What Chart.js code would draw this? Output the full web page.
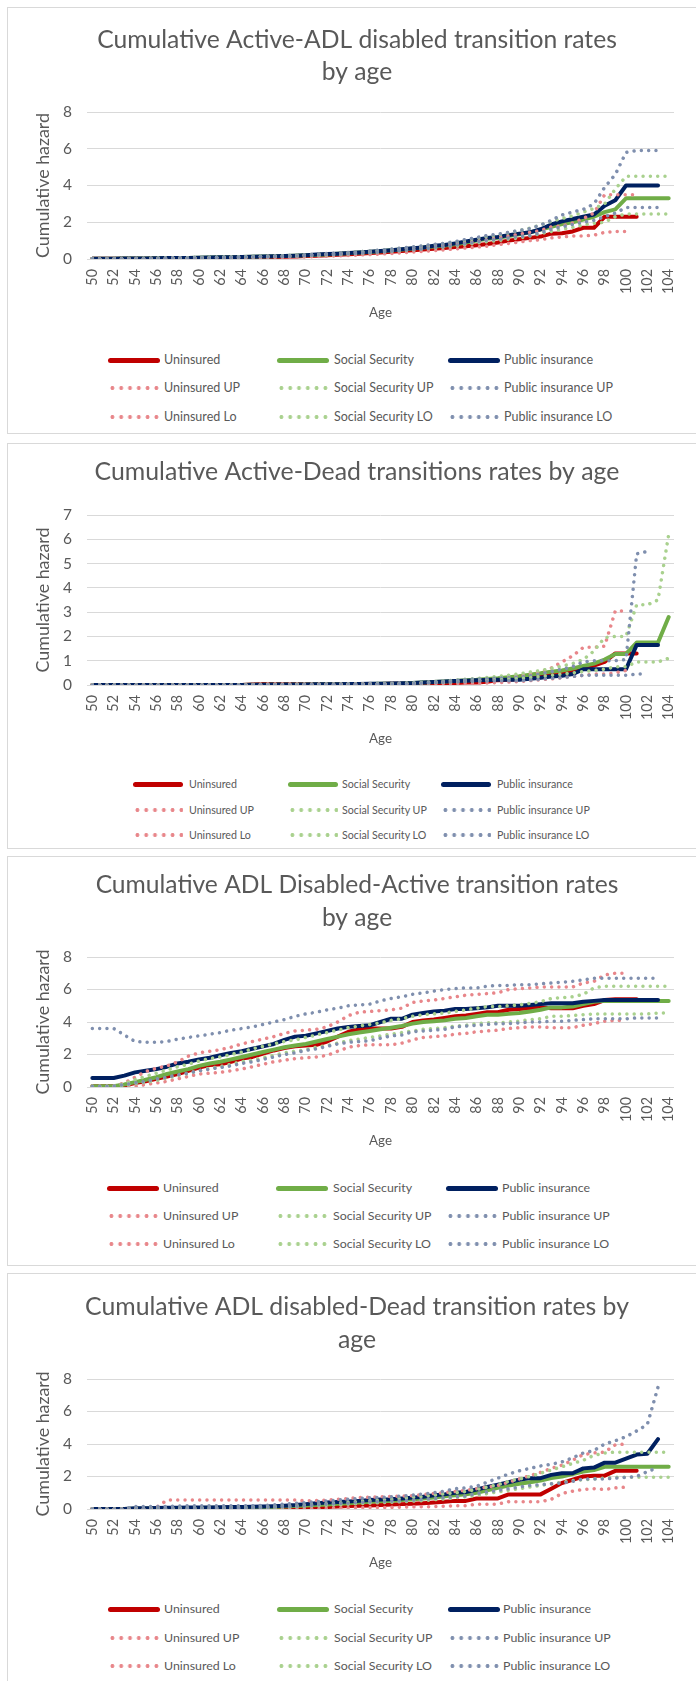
<!DOCTYPE html>
<html>
<head>
<meta charset="utf-8">
<script src="https://cdn.jsdelivr.net/npm/chart.js@4.4.1/dist/chart.umd.min.js"></script>
<style>
  body { margin: 0; width: 696px; height: 1681px; background: #fff; position: relative; overflow: hidden; font-family: Lato, sans-serif; }
  .frame { position: absolute; left: 7px; width: 720px; border: 1px solid #d9d9d9; box-sizing: border-box; }
  canvas { position: absolute; left: 0; }
  .lg-line { position: absolute; }
  .lg-text { position: absolute; color: #595959; white-space: nowrap; transform: translateY(-50%); line-height: 1; }
</style>
</head>
<body>
<script>
// ages on the x axis
const ages = [50,51,52,53,54,55,56,57,58,59,60,61,62,63,64,65,66,67,68,69,70,71,72,73,74,75,76,77,78,79,
  80,81,82,83,84,85,86,87,88,89,90,91,92,93,94,95,96,97,98,99,100,101,102,103,104];

const seriesNames = ['Uninsured', 'Social Security', 'Public insurance',
  'Uninsured UP', 'Social Security UP', 'Public insurance UP',
  'Uninsured Lo', 'Social Security LO', 'Public insurance LO'];
const seriesColors = ['#C00000', '#70AD47', '#002060', '#E8868A', '#A9D18E', '#7F8FAE', '#E8868A', '#A9D18E', '#7F8FAE'];
const seriesDotted = [false, false, false, true, true, true, true, true, true];

// ---- Active -> ADL disabled ----
const actAdlUninsured = [0.01,0.01,0.01,0.02,0.02,0.02,0.03,0.03,0.04,0.04,
  0.05,0.05,0.06,0.07,0.08,0.09,0.10,0.11,0.12,0.14,
  0.16,0.18,0.20,0.23,0.26,0.29,0.32,0.36,0.40,0.44,
  0.48,0.52,0.56,0.60,0.65,0.70,0.75,0.82,0.90,1.00,
  1.08,1.15,1.22,1.38,1.40,1.50,1.70,1.70,2.30,2.30,
  2.30,2.30,null,null,null];
const actAdlSocial = [0.02,0.02,0.02,0.03,0.03,0.03,0.04,0.05,0.05,0.06,
  0.07,0.08,0.09,0.10,0.11,0.12,0.13,0.15,0.16,0.18,
  0.20,0.22,0.25,0.28,0.31,0.35,0.38,0.42,0.47,0.52,
  0.57,0.62,0.68,0.74,0.80,0.90,1.00,1.10,1.15,1.25,
  1.35,1.45,1.60,1.75,1.90,2.00,2.15,2.30,2.55,2.70,
  3.30,3.30,3.30,3.30,3.30];
const actAdlPublic = [0.02,0.02,0.02,0.03,0.03,0.03,0.04,0.05,0.06,0.06,
  0.07,0.08,0.09,0.10,0.11,0.12,0.14,0.15,0.16,0.18,
  0.21,0.24,0.27,0.29,0.32,0.36,0.39,0.43,0.48,0.53,
  0.58,0.63,0.72,0.76,0.85,0.95,1.05,1.15,1.20,1.30,
  1.38,1.45,1.62,1.88,2.05,2.18,2.30,2.42,2.90,3.20,
  4.00,4.00,4.00,4.00,null];
const actAdlUninsuredUp = [0.02,0.02,0.02,0.03,0.03,0.03,0.04,0.05,0.05,0.06,
  0.07,0.08,0.09,0.10,0.11,0.12,0.14,0.15,0.17,0.19,
  0.21,0.24,0.27,0.30,0.33,0.37,0.41,0.45,0.50,0.55,
  0.60,0.65,0.70,0.76,0.82,0.90,0.98,1.06,1.15,1.25,
  1.35,1.45,1.55,1.75,1.80,1.95,2.20,2.50,3.50,3.50,
  3.50,3.50,null,null,null];
const actAdlSocialUp = [0.02,0.02,0.02,0.03,0.03,0.04,0.05,0.05,0.06,0.07,
  0.08,0.09,0.10,0.11,0.12,0.13,0.15,0.16,0.18,0.20,
  0.22,0.25,0.28,0.31,0.35,0.39,0.43,0.48,0.53,0.58,
  0.64,0.70,0.77,0.84,0.92,1.02,1.12,1.22,1.30,1.42,
  1.55,1.68,1.85,2.05,2.20,2.35,2.55,2.75,3.00,3.80,
  4.50,4.50,4.50,4.50,4.50];
const actAdlPublicUp = [0.02,0.02,0.03,0.03,0.04,0.04,0.05,0.06,0.07,0.07,
  0.08,0.09,0.10,0.11,0.12,0.14,0.15,0.17,0.18,0.20,
  0.23,0.26,0.30,0.33,0.36,0.40,0.44,0.49,0.54,0.60,
  0.66,0.72,0.80,0.86,0.95,1.06,1.17,1.28,1.35,1.45,
  1.55,1.65,1.85,2.10,2.40,2.55,2.70,3.00,3.90,4.60,
  5.80,5.90,5.90,5.90,null];
const actAdlUninsuredLo = [0.00,0.00,0.00,0.01,0.01,0.01,0.02,0.02,0.03,0.03,
  0.03,0.04,0.04,0.05,0.06,0.06,0.07,0.08,0.09,0.10,
  0.11,0.13,0.15,0.17,0.19,0.22,0.24,0.27,0.30,0.34,
  0.38,0.42,0.46,0.50,0.55,0.60,0.65,0.70,0.78,0.85,
  0.92,1.00,1.05,1.15,1.20,1.25,1.25,1.30,1.45,1.50,
  1.50,null,null,null,null];
const actAdlSocialLo = [0.01,0.01,0.01,0.02,0.02,0.02,0.03,0.04,0.04,0.05,
  0.06,0.07,0.08,0.09,0.10,0.11,0.12,0.13,0.14,0.16,
  0.18,0.20,0.22,0.25,0.28,0.31,0.34,0.38,0.42,0.46,
  0.50,0.55,0.60,0.65,0.70,0.78,0.87,0.95,1.00,1.08,
  1.15,1.25,1.38,1.50,1.62,1.72,1.85,1.95,2.00,2.30,
  2.45,2.45,2.45,2.45,2.45];
const actAdlPublicLo = [0.01,0.01,0.01,0.02,0.02,0.02,0.03,0.04,0.05,0.05,
  0.06,0.07,0.08,0.09,0.10,0.11,0.12,0.13,0.14,0.16,
  0.19,0.22,0.24,0.26,0.29,0.32,0.35,0.38,0.43,0.47,
  0.51,0.55,0.63,0.67,0.75,0.84,0.93,1.02,1.07,1.15,
  1.22,1.28,1.42,1.62,1.75,1.88,2.00,2.10,2.30,2.50,
  2.80,2.80,2.80,2.80,null];

// ---- Active -> Dead ----
const actDeadUninsured = [0,0,0,0,0,0,0,0,0,0,
  0,0,0,0,0,0.02,0.04,0.04,0.04,0.04,
  0.03,0.03,0.03,0.03,0.03,0.04,0.04,0.04,0.05,0.05,
  0.06,0.07,0.07,0.08,0.08,0.10,0.10,0.13,0.20,0.22,
  0.25,0.30,0.35,0.42,0.45,0.55,0.70,0.80,0.95,1.30,
  1.30,1.30,null,null,null];
const actDeadSocial = [0,0,0,0,0,0,0,0,0,0,
  0,0,0,0,0,0.01,0.01,0.02,0.02,0.02,
  0.02,0.03,0.03,0.03,0.03,0.04,0.04,0.05,0.05,0.06,
  0.08,0.10,0.12,0.14,0.17,0.20,0.22,0.25,0.28,0.32,
  0.36,0.42,0.48,0.55,0.60,0.68,0.78,0.88,1.05,1.28,
  1.28,1.75,1.75,1.75,2.80];
const actDeadPublic = [0,0,0,0,0,0,0,0,0,0,
  0,0,0,0,0,0.01,0.01,0.02,0.02,0.02,
  0.02,0.03,0.03,0.03,0.04,0.04,0.05,0.05,0.06,0.07,
  0.08,0.10,0.12,0.14,0.16,0.18,0.20,0.21,0.22,0.22,
  0.22,0.26,0.30,0.35,0.38,0.45,0.65,0.65,0.65,0.65,
  0.65,1.65,1.65,1.65,null];
const actDeadUninsuredUp = [0,0,0,0,0,0,0,0,0,0,
  0,0,0,0,0,0.03,0.05,0.05,0.05,0.05,
  0.04,0.04,0.04,0.04,0.04,0.05,0.05,0.05,0.06,0.07,
  0.08,0.09,0.10,0.12,0.14,0.16,0.18,0.22,0.28,0.32,
  0.38,0.45,0.55,0.70,0.95,1.20,1.55,1.55,1.60,3.05,
  3.05,null,null,null,null];
const actDeadSocialUp = [0,0,0,0,0,0,0,0,0,0,
  0,0,0,0,0,0.01,0.02,0.02,0.02,0.03,
  0.03,0.03,0.04,0.04,0.04,0.05,0.05,0.06,0.06,0.07,
  0.09,0.11,0.14,0.17,0.20,0.24,0.27,0.31,0.35,0.40,
  0.46,0.53,0.60,0.68,0.78,0.88,1.05,1.40,1.95,2.00,
  2.00,3.30,3.30,3.50,6.20];
const actDeadPublicUp = [0,0,0,0,0,0,0,0,0,0,
  0,0,0,0,0,0.01,0.02,0.02,0.02,0.03,
  0.03,0.03,0.04,0.04,0.05,0.05,0.06,0.06,0.07,0.08,
  0.09,0.11,0.13,0.16,0.19,0.22,0.24,0.26,0.28,0.30,
  0.32,0.38,0.45,0.55,0.65,0.75,0.95,1.00,1.00,1.00,
  1.05,5.40,5.50,null,null];
const actDeadUninsuredLo = [0,0,0,0,0,0,0,0,0,0,
  0,0,0,0,0,0.01,0.02,0.02,0.02,0.02,
  0.02,0.02,0.02,0.02,0.02,0.03,0.03,0.03,0.03,0.03,
  0.04,0.05,0.05,0.06,0.06,0.07,0.07,0.08,0.10,0.12,
  0.14,0.18,0.22,0.25,0.30,0.35,0.40,0.45,0.45,0.50,
  0.60,null,null,null,null];
const actDeadSocialLo = [0,0,0,0,0,0,0,0,0,0,
  0,0,0,0,0,0.01,0.01,0.01,0.01,0.02,
  0.02,0.02,0.02,0.02,0.03,0.03,0.03,0.04,0.04,0.05,
  0.07,0.08,0.10,0.11,0.13,0.15,0.17,0.19,0.21,0.24,
  0.27,0.30,0.35,0.40,0.45,0.50,0.55,0.60,0.65,0.75,
  0.75,0.95,0.95,0.95,1.10];
const actDeadPublicLo = [0,0,0,0,0,0,0,0,0,0,
  0,0,0,0,0,0.01,0.01,0.01,0.01,0.01,
  0.02,0.02,0.02,0.02,0.03,0.03,0.03,0.04,0.04,0.05,
  0.06,0.08,0.10,0.12,0.13,0.15,0.16,0.17,0.17,0.18,
  0.18,0.20,0.24,0.28,0.30,0.35,0.40,0.40,0.40,0.40,
  0.40,0.45,0.45,null,null];

// ---- ADL disabled -> Active ----
const adlActUninsured = [0.05,0.05,0.05,0.10,0.25,0.35,0.50,0.65,0.80,1.00,
  1.20,1.35,1.40,1.55,1.75,1.85,2.05,2.25,2.40,2.50,
  2.55,2.60,2.80,3.10,3.40,3.55,3.60,3.60,3.60,3.70,
  4.00,4.10,4.15,4.25,4.35,4.40,4.50,4.60,4.60,4.75,
  4.80,4.85,4.90,4.85,4.85,4.85,5.00,5.10,5.35,5.40,
  5.40,5.40,null,null,null];
const adlActSocial = [0.05,0.05,0.05,0.15,0.30,0.45,0.60,0.80,0.95,1.10,
  1.30,1.45,1.55,1.70,1.85,2.00,2.15,2.30,2.45,2.55,
  2.65,2.80,2.95,3.10,3.25,3.35,3.45,3.55,3.65,3.75,
  3.90,4.00,4.05,4.10,4.20,4.25,4.35,4.45,4.45,4.50,
  4.55,4.65,4.75,4.90,4.90,4.95,5.10,5.25,5.30,5.30,
  5.30,5.30,5.30,5.30,5.30];
const adlActPublic = [0.55,0.55,0.55,0.70,0.90,1.00,1.10,1.25,1.45,1.55,
  1.70,1.80,1.95,2.10,2.20,2.35,2.50,2.65,2.90,3.10,
  3.15,3.30,3.45,3.60,3.70,3.75,3.80,4.00,4.20,4.20,
  4.45,4.55,4.65,4.70,4.80,4.80,4.85,4.90,5.00,5.00,
  5.00,5.05,5.10,5.15,5.15,5.15,5.25,5.30,5.35,5.35,
  5.35,5.35,5.35,5.35,null];
const adlActUninsuredUp = [0.05,0.05,0.05,0.25,0.60,0.95,1.15,1.30,1.55,1.90,
  2.10,2.20,2.30,2.45,2.65,2.80,2.95,3.10,3.30,3.45,
  3.50,3.55,3.70,4.00,4.40,4.60,4.65,4.70,4.75,4.85,
  5.20,5.30,5.35,5.45,5.55,5.65,5.70,5.75,5.80,6.00,
  6.05,6.10,6.15,6.15,6.15,6.15,6.40,6.50,6.90,7.00,
  7.00,null,null,null,null];
const adlActSocialUp = [0.05,0.05,0.05,0.20,0.45,0.65,0.85,1.05,1.25,1.40,
  1.60,1.75,1.85,2.00,2.15,2.35,2.50,2.65,2.80,2.90,
  3.05,3.20,3.35,3.50,3.65,3.75,3.85,3.95,4.10,4.20,
  4.35,4.45,4.50,4.55,4.65,4.75,4.85,4.95,4.95,5.00,
  5.05,5.15,5.25,5.45,5.50,5.55,5.70,6.10,6.20,6.20,
  6.20,6.20,6.20,6.20,6.20];
const adlActPublicUp = [3.60,3.60,3.60,3.20,2.80,2.75,2.75,2.80,2.95,3.05,
  3.15,3.25,3.35,3.50,3.60,3.70,3.85,4.00,4.15,4.35,
  4.50,4.60,4.75,4.85,5.00,5.05,5.10,5.30,5.45,5.55,
  5.70,5.80,5.90,6.00,6.05,6.10,6.10,6.20,6.25,6.25,
  6.30,6.30,6.35,6.40,6.45,6.50,6.60,6.70,6.70,6.70,
  6.70,6.70,6.70,6.70,null];
const adlActUninsuredLo = [0.00,0.00,0.00,0.00,0.05,0.15,0.25,0.35,0.50,0.65,
  0.80,0.85,0.90,1.00,1.10,1.25,1.40,1.55,1.65,1.75,
  1.80,1.85,1.95,2.20,2.45,2.55,2.60,2.60,2.60,2.70,
  2.90,3.05,3.10,3.15,3.25,3.30,3.40,3.45,3.50,3.60,
  3.65,3.70,3.70,3.65,3.65,3.65,3.80,3.90,4.05,4.10,
  4.10,null,null,null,null];
const adlActSocialLo = [0.05,0.05,0.05,0.10,0.20,0.30,0.40,0.55,0.70,0.85,
  1.00,1.15,1.25,1.40,1.55,1.65,1.80,1.95,2.10,2.20,
  2.30,2.45,2.55,2.70,2.85,2.95,3.05,3.15,3.25,3.35,
  3.45,3.55,3.60,3.65,3.75,3.80,3.90,3.95,3.95,4.00,
  4.05,4.15,4.20,4.35,4.35,4.40,4.45,4.50,4.50,4.50,
  4.50,4.50,4.50,4.55,4.55];
const adlActPublicLo = [0.05,0.05,0.05,0.15,0.25,0.35,0.50,0.60,0.75,0.85,
  1.00,1.10,1.20,1.30,1.45,1.55,1.70,1.85,2.00,2.10,
  2.25,2.35,2.50,2.65,2.75,2.80,2.85,3.00,3.15,3.20,
  3.40,3.45,3.50,3.55,3.70,3.75,3.80,3.85,3.90,3.90,
  3.95,4.00,4.00,4.05,4.05,4.10,4.15,4.20,4.20,4.20,
  4.20,4.25,4.25,4.25,null];

// ---- ADL disabled -> Dead ----
const adlDeadUninsured = [0,0,0,0,0,0,0.02,0.03,0.04,0.04,
  0.04,0.04,0.04,0.04,0.04,0.04,0.04,0.05,0.05,0.06,
  0.08,0.10,0.12,0.15,0.18,0.20,0.22,0.25,0.28,0.30,
  0.33,0.36,0.40,0.45,0.50,0.50,0.65,0.65,0.65,0.90,
  0.90,0.90,0.90,1.25,1.60,1.80,2.00,2.05,2.05,2.35,
  2.35,2.35,null,null,null];
const adlDeadSocial = [0,0,0,0,0.02,0.03,0.04,0.05,0.05,0.06,
  0.06,0.07,0.07,0.08,0.09,0.10,0.11,0.13,0.15,0.18,
  0.21,0.25,0.28,0.32,0.36,0.40,0.44,0.47,0.50,0.55,
  0.60,0.65,0.70,0.78,0.85,0.90,1.00,1.15,1.30,1.45,
  1.55,1.65,1.75,1.90,2.00,2.15,2.30,2.40,2.60,2.60,
  2.60,2.60,2.60,2.60,2.60];
const adlDeadPublic = [0,0,0,0,0.05,0.05,0.06,0.07,0.08,0.09,
  0.10,0.10,0.11,0.12,0.13,0.14,0.15,0.17,0.20,0.24,
  0.30,0.35,0.40,0.43,0.46,0.50,0.55,0.58,0.60,0.65,
  0.70,0.75,0.85,0.90,1.00,1.05,1.20,1.35,1.50,1.65,
  1.80,1.90,1.90,2.10,2.20,2.20,2.50,2.55,2.85,2.85,
  3.10,3.35,3.40,4.30,null];
const adlDeadUninsuredUp = [0,0,0,0,0.05,0.05,0.10,0.55,0.55,0.55,
  0.55,0.55,0.55,0.55,0.55,0.55,0.55,0.55,0.55,0.55,
  0.50,0.52,0.55,0.60,0.65,0.70,0.72,0.75,0.78,0.80,
  0.82,0.90,0.95,1.00,1.08,1.15,1.25,1.35,1.45,1.65,
  1.85,2.05,2.25,2.50,2.70,3.00,3.35,3.45,3.50,3.95,
  4.00,null,null,null,null];
const adlDeadSocialUp = [0,0,0,0,0.03,0.04,0.05,0.06,0.07,0.08,
  0.08,0.09,0.10,0.11,0.12,0.13,0.15,0.17,0.20,0.22,
  0.25,0.30,0.34,0.38,0.42,0.47,0.52,0.56,0.60,0.66,
  0.72,0.78,0.85,0.93,1.00,1.08,1.20,1.35,1.50,1.70,
  1.85,2.00,2.20,2.40,2.60,2.80,3.00,3.30,3.45,3.50,
  3.50,3.50,3.50,3.50,3.50];
const adlDeadPublicUp = [0,0,0,0,0.15,0.15,0.15,0.15,0.18,0.20,
  0.20,0.20,0.20,0.20,0.20,0.20,0.22,0.25,0.30,0.35,
  0.40,0.45,0.50,0.55,0.60,0.65,0.70,0.72,0.75,0.80,
  0.85,0.92,1.00,1.10,1.25,1.30,1.40,1.65,1.90,2.15,
  2.35,2.50,2.65,2.75,2.90,3.15,3.45,3.60,4.00,4.20,
  4.45,4.80,5.20,7.50,null];
const adlDeadUninsuredLo = [0,0,0,0,0,0,0,0,0,0,
  0,0,0,0,0,0,0.01,0.01,0.01,0.02,
  0.02,0.03,0.05,0.07,0.08,0.09,0.10,0.10,0.10,0.12,
  0.13,0.14,0.15,0.18,0.20,0.20,0.30,0.30,0.30,0.45,
  0.45,0.45,0.45,0.60,0.95,1.10,1.20,1.25,1.20,1.30,
  1.35,null,null,null,null];
const adlDeadSocialLo = [0,0,0,0,0.01,0.02,0.03,0.03,0.04,0.04,
  0.05,0.05,0.05,0.06,0.07,0.08,0.09,0.10,0.12,0.14,
  0.17,0.20,0.23,0.26,0.30,0.33,0.36,0.39,0.42,0.45,
  0.48,0.52,0.57,0.62,0.70,0.75,0.85,0.95,1.05,1.15,
  1.25,1.35,1.45,1.55,1.65,1.75,1.80,1.85,1.90,1.95,
  1.95,1.95,1.95,1.95,1.95];
const adlDeadPublicLo = [0,0,0,0,0.02,0.03,0.04,0.05,0.05,0.06,
  0.06,0.07,0.07,0.08,0.08,0.09,0.10,0.12,0.15,0.17,
  0.20,0.25,0.30,0.33,0.36,0.40,0.43,0.46,0.48,0.50,
  0.55,0.60,0.65,0.70,0.75,0.80,0.95,1.05,1.15,1.25,
  1.35,1.45,1.50,1.55,1.60,1.70,1.85,1.85,1.85,1.90,
  1.95,2.00,2.30,2.55,null];

const titles = [
  ['Cumulative Active-ADL disabled transition rates', 'by age'],
  ['Cumulative Active-Dead transitions rates by age'],
  ['Cumulative ADL Disabled-Active transition rates', 'by age'],
  ['Cumulative ADL disabled-Dead transition rates by', 'age']
];
const yMaxes = [8, 7, 8, 8];
const ySteps = [2, 1, 2, 2];
const panelData = [
  [actAdlUninsured, actAdlSocial, actAdlPublic, actAdlUninsuredUp, actAdlSocialUp, actAdlPublicUp, actAdlUninsuredLo, actAdlSocialLo, actAdlPublicLo],
  [actDeadUninsured, actDeadSocial, actDeadPublic, actDeadUninsuredUp, actDeadSocialUp, actDeadPublicUp, actDeadUninsuredLo, actDeadSocialLo, actDeadPublicLo],
  [adlActUninsured, adlActSocial, adlActPublic, adlActUninsuredUp, adlActSocialUp, adlActPublicUp, adlActUninsuredLo, adlActSocialLo, adlActPublicLo],
  [adlDeadUninsured, adlDeadSocial, adlDeadPublic, adlDeadUninsuredUp, adlDeadSocialUp, adlDeadPublicUp, adlDeadUninsuredLo, adlDeadSocialLo, adlDeadPublicLo]
];

// page layout of each panel (pixels)
const layouts = [
  { frame: [7, 434], canvasTop: 8, titleY: 40, titleLine: 32, titleW: 520, plot: [112, 259],
    legRows: [360, 388, 417], legLine: [108, 277, 448], legText: [164, 334, 504], legLineW: 52, legW: 109 },
  { frame: [443, 849], canvasTop: 444, titleY: 472, titleLine: 32, titleW: 525, plot: [515, 685],
    legRows: [784, 810, 835], legLine: [133, 288, 441], legText: [189, 342, 497], legLineW: 50, legW: 93 },
  { frame: [856, 1266], canvasTop: 857, titleY: 885, titleLine: 33, titleW: 523, plot: [957, 1087],
    legRows: [1188, 1216, 1244], legLine: [107, 276, 446], legText: [163, 333, 502], legLineW: 52, legW: 108 },
  { frame: [1273, 1700], canvasTop: 1274, titleY: 1307, titleLine: 33, titleW: 544, plot: [1379, 1509],
    legRows: [1609, 1638, 1666], legLine: [108, 277, 448], legText: [164, 334, 503], legLineW: 52, legW: 108 }
];

const FONT = 'Lato';
const GREY = '#595959';
const measureCtx = document.createElement('canvas').getContext('2d');
function fitSize(text, width) {
  measureCtx.font = '100px ' + FONT;
  return 100 * width / measureCtx.measureText(text).width;
}

const tickSize = fitSize('100', 25);
const yTickSize = tickSize * 1.08;
const yTitleSize = fitSize('Cumulative hazard', 145);
const ageSize = fitSize('Age', 23);

function makeLegend(lay) {
  const size = fitSize('Public insurance UP', lay.legW);
  seriesNames.forEach((name, i) => {
    const col = i % 3, row = Math.floor(i / 3);
    const y = lay.legRows[row];
    const line = document.createElement('div');
    line.className = 'lg-line';
    line.style.left = lay.legLine[col] + 'px';
    line.style.width = lay.legLineW + 'px';
    if (seriesDotted[i]) {
      line.style.top = (y - 2) + 'px';
      line.style.height = '4px';
      line.style.background = `radial-gradient(circle, ${seriesColors[i]} 1.7px, transparent 2.2px) 0 0 / 8.8px 4px repeat-x`;
    } else {
      line.style.top = (y - 2.5) + 'px';
      line.style.height = '5px';
      line.style.background = seriesColors[i];
      line.style.borderRadius = '2.5px';
    }
    document.body.appendChild(line);
    const txt = document.createElement('div');
    txt.className = 'lg-text';
    txt.style.left = lay.legText[col] + 'px';
    txt.style.top = y + 'px';
    txt.style.fontSize = size + 'px';
    txt.textContent = name;
    document.body.appendChild(txt);
  });
}

layouts.forEach((lay, p) => {
  const frame = document.createElement('div');
  frame.className = 'frame';
  frame.style.top = lay.frame[0] + 'px';
  frame.style.height = (lay.frame[1] - lay.frame[0]) + 'px';
  document.body.appendChild(frame);

  const canvas = document.createElement('canvas');
  const height = lay.plot[1] + 63 - lay.canvasTop;
  canvas.width = 696;
  canvas.height = height;
  canvas.style.top = lay.canvasTop + 'px';
  document.body.appendChild(canvas);

  const nLines = titles[p].length;
  const padTop = lay.titleY - lay.canvasTop - lay.titleLine / 2;
  const padBottom = lay.plot[0] - lay.canvasTop - padTop - nLines * lay.titleLine;
  const titleSize = fitSize(titles[p][0], lay.titleW);

  new Chart(canvas, {
    type: 'line',
    data: {
      labels: ages.map(String),
      datasets: seriesNames.map((name, i) => ({
        label: name,
        data: panelData[p][i],
        borderColor: seriesColors[i],
        backgroundColor: seriesColors[i],
        borderWidth: seriesDotted[i] ? 3.5 : 4,
        borderDash: seriesDotted[i] ? [0.01, 7.3] : [],
        borderCapStyle: 'round',
        borderJoinStyle: 'round',
        pointRadius: 0,
        tension: 0,
        fill: false,
        order: -i
      }))
    },
    options: {
      responsive: false,
      animation: false,
      events: [],
      layout: { padding: { left: 26, right: 8, top: 0, bottom: 0 } },
      plugins: {
        legend: { display: false },
        tooltip: { enabled: false },
        title: {
          display: true,
          text: titles[p],
          color: GREY,
          font: { family: FONT, size: titleSize, weight: 'normal', lineHeight: lay.titleLine + 'px' },
          padding: { top: padTop, bottom: padBottom }
        }
      },
      scales: {
        x: {
          offset: true,
          grid: { display: false, drawTicks: false },
          border: { display: false },
          ticks: {
            autoSkip: false,
            minRotation: 90,
            maxRotation: 90,
            padding: 10,
            color: GREY,
            font: { family: FONT, size: tickSize },
            callback: function (val, i) { return i % 2 === 0 ? this.getLabelForValue(val) : ''; }
          },
          title: { display: true, text: 'Age', color: GREY, padding: 0,
            font: { family: FONT, size: ageSize, lineHeight: '18px' } },
          afterFit: (scale) => { scale.height = 63; }
        },
        y: {
          min: 0,
          max: yMaxes[p],
          grid: { color: '#d9d9d9', lineWidth: 1, drawTicks: false },
          border: { display: false },
          ticks: { stepSize: ySteps[p], padding: 15, color: GREY, font: { family: FONT, size: yTickSize } },
          title: { display: true, text: 'Cumulative hazard', color: GREY, padding: { top: 7, bottom: 0 },
            font: { family: FONT, size: yTitleSize, lineHeight: '20px' } },
          afterFit: (scale) => { scale.width = 61; }
        }
      }
    }
  });

  makeLegend(lay);
});
</script>
</body>
</html>
